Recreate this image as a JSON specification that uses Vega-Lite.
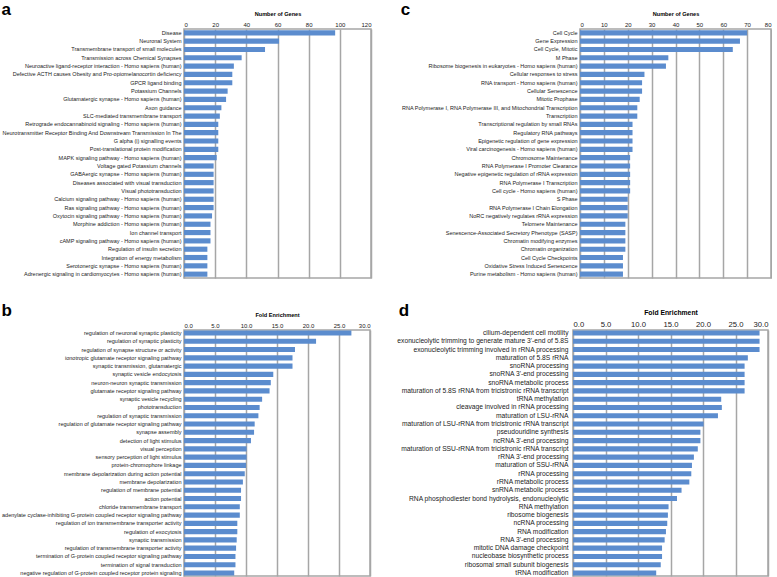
{
  "$schema": "https://vega.github.io/schema/vega-lite/v6.json",
  "padding": 0,
  "background": "white",
  "config": {
    "font": "Liberation Sans",
    "view": {"stroke": "#a6a6a6", "strokeWidth": 1.5},
    "title": {"anchor": "start", "frame": "bounds", "fontSize": 17, "fontWeight": "bold", "color": "#000", "offset": -8},
    "axisX": {"grid": true, "gridColor": "#a6a6a6", "gridWidth": 1.5, "domain": false, "ticks": false, "labelFontSize": 6, "labelPadding": 2, "labelColor": "#222", "titleFontSize": 5.6, "titleFontWeight": "bold", "titlePadding": 5, "titleColor": "#000"},
    "axisY": {"ticks": false, "domain": false, "labelFontSize": 5.5, "labelPadding": 3, "labelLimit": 500, "labelColor": "#222"},
    "bar": {"color": "#5b8cce"}
  },
  "datasets": {
    "a": [
      {"term": "Disease", "n": 97},
      {"term": "Neuronal System", "n": 61},
      {"term": "Transmembrane transport of small molecules", "n": 52},
      {"term": "Transmission across Chemical Synapses", "n": 37},
      {"term": "Neuroactive ligand-receptor interaction - Homo sapiens (human)", "n": 32},
      {"term": "Defective ACTH causes Obesity and Pro-opiomelanocortin deficiency", "n": 31},
      {"term": "GPCR ligand binding", "n": 31},
      {"term": "Potassium Channels", "n": 28},
      {"term": "Glutamatergic synapse - Homo sapiens (human)", "n": 27},
      {"term": "Axon guidance", "n": 24},
      {"term": "SLC-mediated transmembrane transport", "n": 23},
      {"term": "Retrograde endocannabinoid signaling - Homo sapiens (human)", "n": 22},
      {"term": "Neurotransmitter Receptor Binding And Downstream Transmission In The", "n": 22},
      {"term": "G alpha (i) signalling events", "n": 22},
      {"term": "Post-translational protein modification", "n": 22},
      {"term": "MAPK signaling pathway - Homo sapiens (human)", "n": 21},
      {"term": "Voltage gated Potassium channels", "n": 19},
      {"term": "GABAergic synapse - Homo sapiens (human)", "n": 19},
      {"term": "Diseases associated with visual transduction", "n": 19},
      {"term": "Visual phototransduction", "n": 19},
      {"term": "Calcium signaling pathway - Homo sapiens (human)", "n": 19},
      {"term": "Ras signaling pathway - Homo sapiens (human)", "n": 19},
      {"term": "Oxytocin signaling pathway - Homo sapiens (human)", "n": 18},
      {"term": "Morphine addiction - Homo sapiens (human)", "n": 17},
      {"term": "Ion channel transport", "n": 17},
      {"term": "cAMP signaling pathway - Homo sapiens (human)", "n": 17},
      {"term": "Regulation of insulin secretion", "n": 15},
      {"term": "Integration of energy metabolism", "n": 15},
      {"term": "Serotonergic synapse - Homo sapiens (human)", "n": 15},
      {"term": "Adrenergic signaling in cardiomyocytes - Homo sapiens (human)", "n": 15}
    ],
    "b": [
      {"term": "regulation of neuronal synaptic plasticity", "fe": 27.0},
      {"term": "regulation of synaptic plasticity", "fe": 21.3},
      {"term": "regulation of synapse structure or activity", "fe": 17.9},
      {"term": "ionotropic glutamate receptor signaling pathway", "fe": 17.5},
      {"term": "synaptic transmission, glutamatergic", "fe": 17.5},
      {"term": "synaptic vesicle endocytosis", "fe": 14.4},
      {"term": "neuron-neuron synaptic transmission", "fe": 14.0},
      {"term": "glutamate receptor signaling pathway", "fe": 13.8},
      {"term": "synaptic vesicle recycling", "fe": 12.6},
      {"term": "phototransduction", "fe": 12.2},
      {"term": "regulation of synaptic transmission", "fe": 12.0},
      {"term": "regulation of glutamate receptor signaling pathway", "fe": 11.4},
      {"term": "synapse assembly", "fe": 11.3},
      {"term": "detection of light stimulus", "fe": 10.8},
      {"term": "visual perception", "fe": 10.1},
      {"term": "sensory perception of light stimulus", "fe": 10.1},
      {"term": "protein-chromophore linkage", "fe": 10.0},
      {"term": "membrane depolarization during action potential", "fe": 9.8},
      {"term": "membrane depolarization", "fe": 9.5},
      {"term": "regulation of membrane potential", "fe": 9.2},
      {"term": "action potential", "fe": 9.2},
      {"term": "chloride transmembrane transport", "fe": 9.0},
      {"term": "adenylate cyclase-inhibiting G-protein coupled receptor signaling pathway", "fe": 9.0},
      {"term": "regulation of ion transmembrane transporter activity", "fe": 8.6},
      {"term": "regulation of exocytosis", "fe": 8.6},
      {"term": "synaptic transmission", "fe": 8.5},
      {"term": "regulation of transmembrane transporter activity", "fe": 8.4},
      {"term": "termination of G-protein coupled receptor signaling pathway", "fe": 8.3},
      {"term": "termination of signal transduction", "fe": 8.3},
      {"term": "negative regulation of G-protein coupled receptor protein signaling", "fe": 8.1}
    ],
    "c": [
      {"term": "Cell Cycle", "n": 70},
      {"term": "Gene Expression", "n": 67},
      {"term": "Cell Cycle, Mitotic", "n": 64},
      {"term": "M Phase", "n": 37},
      {"term": "Ribosome biogenesis in eukaryotes - Homo sapiens (human)", "n": 36},
      {"term": "Cellular responses to stress", "n": 27},
      {"term": "RNA transport - Homo sapiens (human)", "n": 26},
      {"term": "Cellular Senescence", "n": 26},
      {"term": "Mitotic Prophase", "n": 25},
      {"term": "RNA Polymerase I, RNA Polymerase III, and Mitochondrial Transcription", "n": 24},
      {"term": "Transcription", "n": 24},
      {"term": "Transcriptional regulation by small RNAs", "n": 22},
      {"term": "Regulatory RNA pathways", "n": 22},
      {"term": "Epigenetic regulation of gene expression", "n": 22},
      {"term": "Viral carcinogenesis - Homo sapiens (human)", "n": 22},
      {"term": "Chromosome Maintenance", "n": 21},
      {"term": "RNA Polymerase I Promoter Clearance", "n": 21},
      {"term": "Negative epigenetic regulation of rRNA expression", "n": 21},
      {"term": "RNA Polymerase I Transcription", "n": 21},
      {"term": "Cell cycle - Homo sapiens (human)", "n": 21},
      {"term": "S Phase", "n": 20},
      {"term": "RNA Polymerase I Chain Elongation", "n": 20},
      {"term": "NoRC negatively regulates rRNA expression", "n": 20},
      {"term": "Telomere Maintenance", "n": 19},
      {"term": "Senescence-Associated Secretory Phenotype (SASP)", "n": 19},
      {"term": "Chromatin modifying enzymes", "n": 19},
      {"term": "Chromatin organization", "n": 19},
      {"term": "Cell Cycle Checkpoints", "n": 18},
      {"term": "Oxidative Stress Induced Senescence", "n": 18},
      {"term": "Purine metabolism - Homo sapiens (human)", "n": 18}
    ],
    "d": [
      {"term": "cilium-dependent cell motility", "fe": 28.7},
      {"term": "exonucleolytic trimming to generate mature 3'-end of 5.8S", "fe": 28.7},
      {"term": "exonucleolytic trimming involved in rRNA processing", "fe": 28.7},
      {"term": "maturation of 5.8S rRNA", "fe": 26.9},
      {"term": "snoRNA processing", "fe": 26.4},
      {"term": "snoRNA 3'-end processing", "fe": 26.4},
      {"term": "snoRNA metabolic process", "fe": 26.4},
      {"term": "maturation of 5.8S rRNA from tricistronic rRNA transcript", "fe": 26.4},
      {"term": "tRNA methylation", "fe": 22.8},
      {"term": "cleavage involved in rRNA processing", "fe": 22.9},
      {"term": "maturation of LSU-rRNA", "fe": 22.3},
      {"term": "maturation of LSU-rRNA from tricistronic rRNA transcript", "fe": 20.1},
      {"term": "pseudouridine synthesis", "fe": 19.6},
      {"term": "ncRNA 3'-end processing", "fe": 19.6},
      {"term": "maturation of SSU-rRNA from tricistronic rRNA transcript", "fe": 19.2},
      {"term": "rRNA 3'-end processing", "fe": 18.6},
      {"term": "maturation of SSU-rRNA", "fe": 18.3},
      {"term": "rRNA processing", "fe": 18.2},
      {"term": "rRNA metabolic process", "fe": 17.9},
      {"term": "snRNA metabolic process", "fe": 16.7},
      {"term": "RNA phosphodiester bond hydrolysis, endonucleolytic", "fe": 16.0},
      {"term": "RNA methylation", "fe": 14.7},
      {"term": "ribosome biogenesis", "fe": 14.6},
      {"term": "ncRNA processing", "fe": 14.5},
      {"term": "RNA modification", "fe": 14.3},
      {"term": "RNA 3'-end processing", "fe": 14.1},
      {"term": "mitotic DNA damage checkpoint", "fe": 13.7},
      {"term": "nucleobase biosynthetic process", "fe": 13.7},
      {"term": "ribosomal small subunit biogenesis", "fe": 13.5},
      {"term": "tRNA modification", "fe": 12.8}
    ]
  },
  "spacing": 22,
  "vconcat": [
    {
      "spacing": 209,
      "bounds": "flush",
      "hconcat": [
        {
          "title": {"text": "a"},
          "width": 187, "height": 249,
          "data": {"name": "a"},
          "mark": {"type": "bar"},
          "encoding": {
            "y": {"field": "term", "type": "nominal", "sort": null, "scale": {"paddingInner": 0.38, "paddingOuter": 0.15}, "axis": {"title": null}},
            "x": {"field": "n", "type": "quantitative", "scale": {"domain": [0, 120], "nice": false}, "axis": {"orient": "top", "title": "Number of Genes", "values": [0, 20, 40, 60, 80, 100, 120]}}
          }
        },
        {
          "title": {"text": "c"},
          "width": 191, "height": 249,
          "data": {"name": "c"},
          "mark": {"type": "bar"},
          "encoding": {
            "y": {"field": "term", "type": "nominal", "sort": null, "scale": {"paddingInner": 0.38, "paddingOuter": 0.15}, "axis": {"title": null}},
            "x": {"field": "n", "type": "quantitative", "scale": {"domain": [0, 80], "nice": false}, "axis": {"orient": "top", "title": "Number of Genes", "values": [0, 10, 20, 30, 40, 50, 60, 70, 80]}}
          }
        }
      ]
    },
    {
      "spacing": 203,
      "bounds": "flush",
      "hconcat": [
        {
          "title": {"text": "b"},
          "width": 186, "height": 246,
          "data": {"name": "b"},
          "mark": {"type": "bar"},
          "encoding": {
            "y": {"field": "term", "type": "nominal", "sort": null, "scale": {"paddingInner": 0.38, "paddingOuter": 0.05}, "axis": {"title": null}},
            "x": {"field": "fe", "type": "quantitative", "scale": {"domain": [0, 30], "nice": false}, "axis": {"orient": "top", "title": "Fold Enrichment", "values": [0, 5, 10, 15, 20, 25, 30], "format": ".1f"}}
          }
        },
        {
          "title": {"text": "d", "offset": -11, "dx": 2},
          "width": 195, "height": 246,
          "data": {"name": "d"},
          "mark": {"type": "bar"},
          "encoding": {
            "y": {"field": "term", "type": "nominal", "sort": null, "scale": {"paddingInner": 0.38, "paddingOuter": 0.05}, "axis": {"title": null, "labelFontSize": 6.7, "labelPadding": 5}},
            "x": {"field": "fe", "type": "quantitative", "scale": {"domain": [0, 30], "nice": false}, "axis": {"orient": "top", "title": "Fold Enrichment", "values": [0, 5, 10, 15, 20, 25, 30], "format": ".1f", "labelFontSize": 7.7, "titleFontSize": 6.8}}
          }
        }
      ]
    }
  ]
}
